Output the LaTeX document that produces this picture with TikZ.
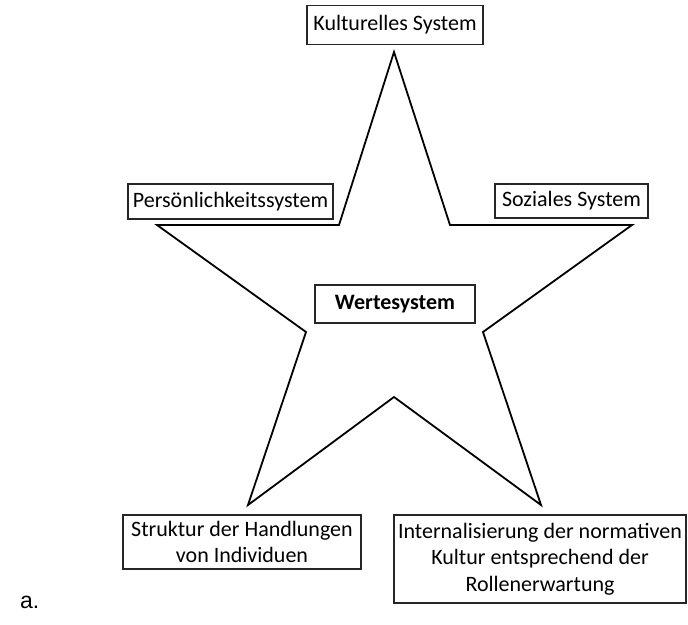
\documentclass[tikz,border=0pt]{standalone}
\usepackage{fontspec}
\setmainfont{Carlito}
\newfontfamily\arialfont{Liberation Sans}
\begin{document}
\begin{tikzpicture}[x=1pt,y=-1pt,
  lbox/.style={draw=black!85, line width=1.1pt, inner sep=0pt, align=center,
    font=\fontsize{22}{26.5}\selectfont},
  starline/.style={draw=black, line width=1.8pt, line join=miter}]
\useasboundingbox (0,0) rectangle (688,624);
\fill[white] (0,0) rectangle (688,624);
% star
\draw[starline] (394,52) -- (450,225) -- (632,225) -- (483,332) -- (541,505)
  -- (394,397) -- (248,505) -- (306,332) -- (157,225) -- (339,225) -- cycle;
% boxes
\node[lbox, minimum width=176pt, minimum height=39pt] (kultur) at (395,25) {Kulturelles System};
\node[lbox, minimum width=205pt, minimum height=35pt] (pers) at (230.5,201.5) {Persönlichkeitssystem};
\node[lbox, minimum width=153pt, minimum height=34pt] (soz) at (571.5,201) {Soziales System};
\node[lbox, minimum width=160pt, minimum height=38pt, font=\fontsize{22}{26.5}\selectfont\bfseries] (werte) at (395,304) {Wertesystem};
\node[lbox, minimum width=238pt, minimum height=54pt] (struk) at (242,542) {Struktur der Handlungen\\von Individuen};
\node[lbox, minimum width=292pt, minimum height=88pt] (intern) at (540,559) {Internalisierung der normativen\\Kultur entsprechend der\\Rollenerwartung};
\node[font=\arialfont\fontsize{23}{28}\selectfont, anchor=base west, inner sep=0pt] (lbl) at (20,608) {a.};
\end{tikzpicture}
\end{document}
